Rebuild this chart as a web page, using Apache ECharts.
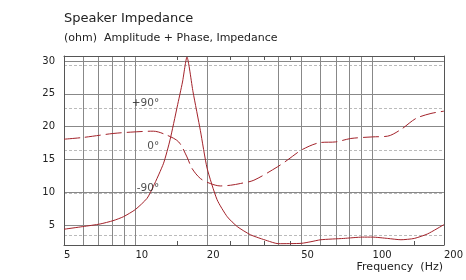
<!DOCTYPE html>
<html>
<head>
<meta charset="utf-8">
<script src="https://cdn.jsdelivr.net/npm/echarts@6/dist/echarts.min.js"></script>
<style>html,body{margin:0;padding:0;background:#fff;}#c{width:466px;height:280px;}</style>
</head>
<body>
<div id="c"></div>
<script>
// Amplitude (ohm) vs frequency (Hz)
const ampFreq = [5, 6, 7.1, 8.05, 8.9, 10, 11.2, 11.9, 13.15, 14.0, 15.0, 15.8, 16.5, 17.5, 18.8, 20.06, 22.1, 24.4, 26.9, 30.6, 36, 40, 50, 55, 60.5, 75.6, 90.7, 100, 115.7, 131.8, 150, 170.9, 200];
const ampVal  = [4.4, 4.8, 5.2, 5.7, 6.3, 7.4, 9.1, 10.9, 14.45, 18.0, 23.0, 26.8, 30.6, 25.3, 19.4, 13.7, 8.9, 6.3, 4.8, 3.55, 2.65, 2.2, 2.25, 2.5, 2.8, 3.0, 3.2, 3.2, 3.0, 2.8, 3.0, 3.7, 5.1];
// Phase (degrees) vs frequency (Hz)
const phFreq = [5, 6, 7.1, 8.05, 9.51, 11.9, 13.59, 15.22, 16.5, 17.34, 18.8, 20.7, 22.8, 25.2, 27.7, 31.6, 39.7, 43.7, 50.6, 60.4, 70, 81, 100, 115.7, 131.8, 152.4, 176.4, 200];
const phVal  = [23.9, 27.5, 32.4, 36.0, 38.8, 40.9, 32.4, 18.2, -13.6, -38.1, -59.3, -69.9, -75.0, -73.5, -69.9, -62.9, -34.7, -20.5, 2.1, 16.9, 18.2, 25.4, 28.8, 30.3, 44.5, 67.8, 78.4, 83.2];
// Axis ticks / labels
const freqLabels = [5, 10, 20, 50, 100, 200];
const freqGrid = [6, 7, 8, 9, 10, 20, 30, 40, 50, 60, 70, 80, 90, 100];
const freqMinor = [15, 25, 35, 45, 150];
const ampTicks = [5, 10, 15, 20, 25, 30];
const phaseTicks = [-180, -90, 0, 90, 180];
const phaseLabelFreq = 12.6;
const phaseLabels = [[phaseLabelFreq, 90, '+90°'], [phaseLabelFreq, 0, '0°'], [phaseLabelFreq, -90, '-90°']];

const FONT = 'DejaVu Sans';
const TXT = '#222';
const LINE = '#a3222a';

const chart = echarts.init(document.getElementById('c'), null, {renderer: 'canvas'});
chart.setOption({
  animation: false,
  backgroundColor: '#fff',
  textStyle: {fontFamily: FONT},
  title: [
    {text: 'Speaker Impedance', left: 64, top: 12, padding: 0, textStyle: {fontFamily: FONT, fontSize: 13, fontWeight: 'normal', color: TXT}},
    {text: '(ohm)  Amplitude + Phase, Impedance', left: 64, top: 33, padding: 0, textStyle: {fontFamily: FONT, fontSize: 11, fontWeight: 'normal', color: TXT}},
    {text: 'Frequency  (Hz)', right: 23, top: 262, padding: 0, textStyle: {fontFamily: FONT, fontSize: 11, fontWeight: 'normal', color: TXT}}
  ],
  grid: {left: 64, right: 22, top: 56, bottom: 35, containLabel: false},
  xAxis: [
    {
      type: 'log', logBase: 10, min: 5, max: 200, position: 'bottom',
      axisLine: {show: true, onZero: false, lineStyle: {color: '#555', width: 1}},
      axisTick: {show: true, inside: true, length: 4, customValues: freqMinor, lineStyle: {color: '#555'}},
      axisLabel: {show: true, customValues: freqLabels, margin: 5, align: 'left', fontFamily: FONT, fontSize: 10, color: TXT},
      splitLine: {show: false}
    },
    {
      type: 'log', logBase: 10, min: 5, max: 200, position: 'top',
      axisLine: {show: true, onZero: false, lineStyle: {color: '#555', width: 1}},
      axisTick: {show: true, inside: true, length: 4, customValues: freqMinor, lineStyle: {color: '#555'}},
      axisLabel: {show: false},
      splitLine: {show: false}
    },
    {
      type: 'log', logBase: 10, min: 5, max: 200, position: 'bottom',
      axisLine: {show: false},
      axisTick: {show: false, customValues: freqGrid},
      axisLabel: {show: false, customValues: freqGrid},
      splitLine: {show: true, lineStyle: {color: '#888', width: 1}}
    }
  ],
  yAxis: [
    {
      type: 'value', min: 2, max: 30.76, position: 'left',
      axisLine: {show: true, lineStyle: {color: '#555', width: 1}},
      axisTick: {show: false, customValues: ampTicks},
      axisLabel: {show: true, customValues: ampTicks, margin: 9, fontFamily: FONT, fontSize: 10, color: TXT},
      splitLine: {show: true, lineStyle: {color: '#888', width: 1}}
    },
    {
      type: 'value', min: -200, max: 200, position: 'right',
      axisLine: {show: true, lineStyle: {color: '#555', width: 1}},
      axisTick: {show: false, customValues: phaseTicks},
      axisLabel: {show: false, customValues: phaseTicks},
      splitLine: {show: true, lineStyle: {color: '#bbb', width: 1, type: [3, 2]}}
    }
  ],
  series: [
    {
      name: 'Phase', type: 'line', xAxisIndex: 0, yAxisIndex: 1, z: 3,
      data: phFreq.map((f, i) => [f, phVal[i]]),
      showSymbol: false, symbol: 'none', smooth: 0.3,
      lineStyle: {color: LINE, width: 1, type: [16, 5]}
    },
    {
      name: 'Amplitude', type: 'line', xAxisIndex: 0, yAxisIndex: 0, z: 4,
      data: ampFreq.map((f, i) => [f, ampVal[i]]),
      showSymbol: false, symbol: 'none', smooth: 0.2,
      lineStyle: {color: LINE, width: 1}
    },
    {
      name: 'PhaseLabels', type: 'scatter', xAxisIndex: 0, yAxisIndex: 1, z: 5,
      data: phaseLabels, symbolSize: 0, silent: true,
      label: {
        show: true, position: [0, 0], align: 'right', verticalAlign: 'bottom', offset: [0, 1],
        formatter: p => p.data[2], fontFamily: FONT, fontSize: 10.5, color: TXT
      }
    }
  ]
});
</script>
</body>
</html>
